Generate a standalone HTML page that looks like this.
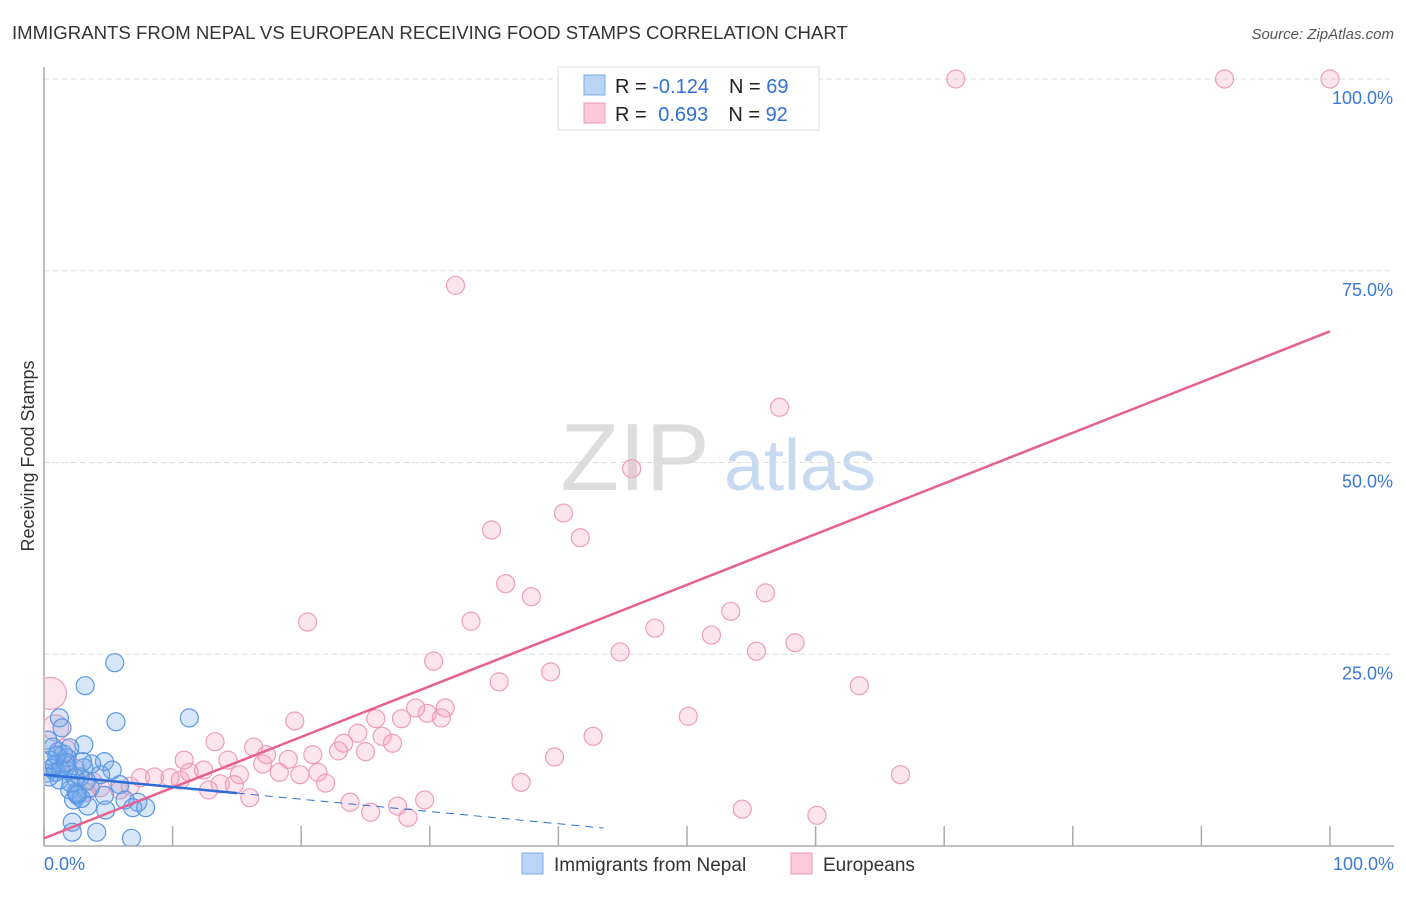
<!DOCTYPE html>
<html><head><meta charset="utf-8">
<style>
body{margin:0;background:#fff;font-family:"Liberation Sans",sans-serif;}
svg text{font-family:"Liberation Sans",sans-serif;}
</style></head>
<body>
<svg id="chart" width="1406" height="892" xmlns="http://www.w3.org/2000/svg">
<defs><clipPath id="plotclip" clipPathUnits="userSpaceOnUse"><rect x="45" y="60" width="1360" height="786"/></clipPath></defs>
<text x="12" y="39" font-size="18.6" fill="#333">IMMIGRANTS FROM NEPAL VS EUROPEAN RECEIVING FOOD STAMPS CORRELATION CHART</text>
<text x="1394" y="39" font-size="15" fill="#555" text-anchor="end" font-style="italic">Source: ZipAtlas.com</text>
<text transform="translate(34,456) rotate(-90)" font-size="18" fill="#333" text-anchor="middle">Receiving Food Stamps</text>
<g>
<text x="635" y="490" font-size="96" fill="#ddd" text-anchor="middle" font-family="Liberation Serif">ZIP</text>
<text x="800" y="490" font-size="72" fill="#c8daf2" text-anchor="middle">atlas</text>
</g>
<g id="grid"></g>
<g id="axes"></g>
<g id="pts" clip-path="url(#plotclip)"></g>
<g id="trend"></g>
<g>
<rect x="558" y="67" width="261" height="63" fill="#fff" stroke="#ddd"/>
<rect x="584" y="75" width="21" height="20" fill="#b9d4f5" stroke="#7aaee8"/>
<rect x="584" y="103" width="21" height="20" fill="#fbc9d8" stroke="#ee9ab5"/>
<text x="615" y="93" font-size="20" fill="#222">R = <tspan fill="#2f6fd6">-0.124</tspan><tspan dx="20">N = </tspan><tspan fill="#2f6fd6">69</tspan></text>
<text x="615" y="121" font-size="20" fill="#222">R = <tspan fill="#2f6fd6" dx="6">0.693</tspan><tspan dx="20">N = </tspan><tspan fill="#2f6fd6">92</tspan></text>
</g>
<g>
<rect x="522" y="853" width="21" height="21" fill="#b9d4f5" stroke="#7aaee8"/>
<text x="554" y="871" font-size="19" fill="#333">Immigrants from Nepal</text>
<rect x="791" y="853" width="21" height="21" fill="#fbc9d8" stroke="#ee9ab5"/>
<text x="823" y="871" font-size="19" fill="#333">Europeans</text>
</g>
</svg>
<script>
const blueX=[5.5,3.2,5.6,11.3,1.2,1.4,0.3,3.1,2,1.1,0.5,4.7,3.7,1.6,3.1,5.3,0.9,0.2,4.4,2.4,1.2,5.9,3.6,2,2.6,4.7,2.3,6.3,7.3,6.9,7.9,3.4,4.8,2.2,4.1,2.2,6.8,0.6,1.8,2.8,1.5,0.8,2.5,1.9,3.0,0.4,1.3,2.9,2.1,1.0,3.3,0.7,2.6,1.7];
const blueY=[23.9,20.9,16.2,16.7,16.7,15.4,13.8,13.2,12.8,12.3,11.2,11,10.7,10.6,10.2,9.9,9.6,9.5,9.3,8.9,8.6,8,7.6,7.3,6.6,6.6,6,6,5.7,5,5,5.2,4.7,3.1,1.8,1.8,1,10.1,11.5,9.0,12.0,10.5,7.0,9.8,11.0,9.0,10.0,6.2,8.2,11.8,8.5,12.9,6.8,10.9];
const pinkX=[70.9,91.8,100,32,57.2,45.7,40.4,34.8,41.7,35.9,37.9,56.1,53.4,20.5,33.2,47.5,51.9,58.4,44.8,55.4,30.3,39.4,35.4,63.4,28.9,31.2,29.8,30.9,27.8,25.8,19.5,50.1,42.7,24.4,26.3,13.3,27.1,23.3,16.3,22.9,20.9,25,17.3,19,14.3,10.9,17,39.7,18.3,21.3,19.9,12.4,11.3,15.2,66.6,7.5,8.6,9.8,10.6,21.9,37.1,13.7,14.8,12.8,5.9,4.4,3.3,16,23.8,29.6,27.5,25.4,28.3,54.3,60.1,0.5,0.9,1.6,2.4,3.8,6.7];
const pinkY=[100,100,100,73.1,57.2,49.2,43.4,41.2,40.2,34.2,32.5,33,30.6,29.2,29.3,28.4,27.5,26.5,25.3,25.4,24.1,22.7,21.4,20.9,18,18,17.3,16.7,16.6,16.6,16.3,16.9,14.3,14.7,14.3,13.6,13.4,13.4,12.9,12.4,11.9,12.3,11.9,11.3,11.2,11.2,10.7,11.6,9.6,9.6,9.3,9.9,9.6,9.3,9.3,8.9,9,8.9,8.6,8.2,8.3,8.1,8,7.3,7.3,7.6,7,6.3,5.7,6,5.2,4.4,3.7,4.8,4,19.9,15.4,12.5,10.0,8.4,7.8];
const pinkR=[9,9,9,9,9,9,9,9,9,9,9,9,9,9,9,9,9,9,9,9,9,9,9,9,9,9,9,9,9,9,9,9,9,9,9,9,9,9,9,9,9,9,9,9,9,9,9,9,9,9,9,9,9,9,9,9,9,9,9,9,9,9,9,9,9,9,9,9,9,9,9,9,9,9,9,16,13,11,10,9,9];
const yTicks=[25,50,75,100];
const yTickLabels=["25.0%","50.0%","75.0%","100.0%"];
const xTicks=[0,10,20,30,40,50,60,70,80,90,100];
const blueTrend=[9.3,-0.16];
const pinkTrend=[1.0,0.661];
const NS='http://www.w3.org/2000/svg';
const sx=v=>44+v*12.86, sy=v=>846-v*7.67;
function mk(tag,attrs,parent){const e=document.createElementNS(NS,tag);for(const k in attrs)e.setAttribute(k,attrs[k]);parent.appendChild(e);return e;}
const grid=document.getElementById('grid'),axes=document.getElementById('axes'),pts=document.getElementById('pts'),tr=document.getElementById('trend');
yTicks.forEach((t,i)=>{
 const l=mk('line',{x1:44,x2:1394,y1:sy(t),y2:sy(t),stroke:'#ddd','stroke-dasharray':'5,4'},grid);
 
 
 const tx=mk('text',{x:1393,y:sy(t)+25,'font-size':18,fill:'#3a78d8','text-anchor':'end'},grid);
 tx.textContent=yTickLabels[i];
 
 
});
xTicks.forEach(t=>{
 const l=mk('line',{x1:sx(t),x2:sx(t),y1:826,y2:846,stroke:'#aaa','stroke-width':1.5},axes);
 
 
});
[[0,'0.0%','start',44],[100,'100.0%','end',1394]].forEach(a=>{
 const t=mk('text',{x:a[3],y:870,'font-size':18,fill:'#3a78d8','text-anchor':a[2]},axes);t.textContent=a[1];
 
 
});
pinkX.forEach((x,i)=>{
 const c=mk('circle',{cx:sx(x),cy:sy(pinkY[i]),r:pinkR[i],fill:'rgba(244,160,188,0.28)',stroke:'#ee9db8','stroke-width':1.2},pts);
 
 
});
blueX.forEach((x,i)=>{
 const c=mk('circle',{cx:sx(x),cy:sy(blueY[i]),r:9,fill:'rgba(110,165,235,0.28)',stroke:'#5b98e4','stroke-width':1.2},pts);
 
 
});
const pl=mk('line',{x1:sx(0),y1:sy(pinkTrend[0]),x2:sx(100),y2:sy(pinkTrend[0]+pinkTrend[1]*100),stroke:'#e8608e','stroke-width':2.5},tr);


const bl=mk('line',{x1:sx(0),y1:sy(blueTrend[0]),x2:sx(15),y2:sy(blueTrend[0]+blueTrend[1]*15),stroke:'#2d6fd4','stroke-width':2.5},tr);


const bd=mk('line',{x1:sx(15),y1:sy(blueTrend[0]+blueTrend[1]*15),x2:sx(43.5),y2:sy(blueTrend[0]+blueTrend[1]*43.5),stroke:'#2d6fd4','stroke-width':1,'stroke-dasharray':'8,6'},tr);


const ax=mk('line',{x1:44,x2:44,y1:67,y2:846,stroke:'#aaa','stroke-width':1.5},axes);


const bx=mk('line',{x1:44,x2:1394,y1:846,y2:846,stroke:'#aaa','stroke-width':1.5},axes);


</script>
</body></html>
